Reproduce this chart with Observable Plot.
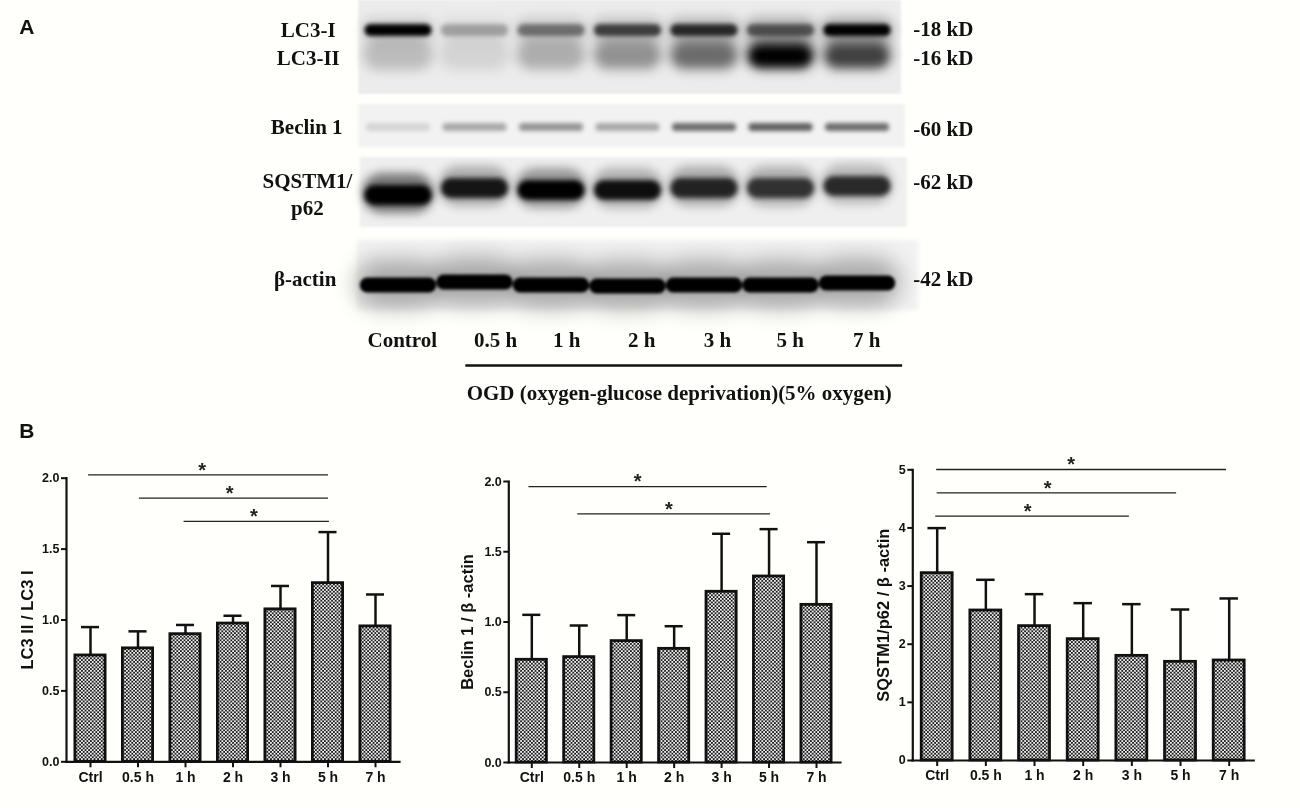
<!DOCTYPE html>
<html><head><meta charset="utf-8">
<script src="https://cdn.jsdelivr.net/npm/d3@7"></script>
<script src="https://cdn.jsdelivr.net/npm/@observablehq/plot@0.6"></script>
<style>
html,body{margin:0;padding:0;background:#fffffb;width:1300px;height:808px;overflow:hidden}
#page{position:relative;width:1300px;height:808px}
#page svg{position:absolute;overflow:visible;background:transparent}
</style></head><body><div id="page"></div>
<script>
// ---------- Panel B data ----------
const times = ["Ctrl","0.5 h","1 h","2 h","3 h","5 h","7 h"];
const lc3Means = [0.75,0.80,0.90,0.975,1.075,1.26,0.955];
const lc3Upper = [0.95,0.92,0.965,1.03,1.24,1.62,1.18];
const lc3SigFrom = [-0.04,1.03,1.97];
const lc3SigTo = [5.01,5.01,5.03];
const lc3SigLevel = [2.024,1.859,1.695];
const lc3StarAt = [2.35,2.93,3.44];

const beclinMeans = [0.731,0.75,0.864,0.809,1.215,1.324,1.122];
const beclinUpper = [1.051,0.975,1.049,0.97,1.628,1.661,1.568];
const beclinSigFrom = [-0.06,0.97];
const beclinSigTo = [4.96,5.03];
const beclinSigLevel = [1.964,1.77];
const beclinStarAt = [2.23,2.89];

const p62Means = [3.222,2.58,2.311,2.087,1.80,1.697,1.72];
const p62Upper = [3.997,3.108,2.861,2.706,2.689,2.597,2.787];
const p62SigFrom = [-0.01,0,-0.03];
const p62SigTo = [5.945,4.92,3.95];
const p62SigLevel = [5.005,4.604,4.203];
const p62StarAt = [2.75,2.27,1.86];

// ---------- Panel A: band intensities (0-1) per lane ----------
const laneNames = ["Control","0.5 h","1 h","2 h","3 h","5 h","7 h"];
const lc3I = [1,0.28,0.45,0.68,0.78,0.55,1];
const lc3IHaze = [0.12,0.06,0.14,0.18,0.22,0.25,0.28];
const lc3IIHaze = [0.2,0.1,0.22,0.28,0.38,0.55,0.45];
const lc3II = [0,0,0.05,0.14,0.26,1,0.5];
const beclin = [0.12,0.3,0.38,0.3,0.55,0.6,0.55];
const p62Haze = [0.5,0.28,0.36,0.26,0.28,0.26,0.22];
const p62 = [1,0.88,1,0.92,0.8,0.72,0.78];
const p62Shift = [6,-1,1,1,-1,-1,-3];
const actin = [1,1,1,1,1,1,1];
const actinShift = [1,-2,1,2,1,1,-1];

const page = document.getElementById("page");
const place = (el,left,top) => { el.style.left = left+"px"; el.style.top = top+"px"; page.appendChild(el); };
const sans = "'Liberation Sans', Arial, sans-serif";
const serif = "'Liberation Serif', 'Times New Roman', serif";

// ---------- Panel B charts ----------
function checkerDefs(id){
  return () => {
    const defs = d3.create("svg:defs");
    const s = 3.6, h = s/2;
    const p = defs.append("pattern").attr("id",id).attr("width",s).attr("height",s).attr("patternUnits","userSpaceOnUse");
    p.append("rect").attr("width",s).attr("height",s).attr("fill","#efefef");
    p.append("rect").attr("width",h).attr("height",h).attr("fill","#1c1c1c");
    p.append("rect").attr("x",h).attr("y",h).attr("width",h).attr("height",h).attr("fill","#1c1c1c");
    return defs.node();
  };
}
function barChart({id,means,upper,sigFrom,sigTo,sigLevel,starAt,ymax,yticks,yfmt,title,left,right,zero,topY,step,firstTick}){
  const svgTop = 445, H = 355;
  const xmin = (left-firstTick)/step, xmax = (right-firstTick)/step;
  const idx = d3.range(times.length);
  const half = 0.318, cap = 0.19;
  const sig = d3.range(sigFrom.length);
  const plot = Plot.plot({
    width: right+40, height: H,
    marginLeft: left, marginRight: 40, marginTop: topY-svgTop, marginBottom: svgTop+H-zero,
    x:{domain:[xmin,xmax],axis:null}, y:{domain:[0,ymax],axis:null},
    style:{fontFamily:sans,color:"#111",background:"transparent"},
    marks:[
      checkerDefs(id),
      Plot.rect(idx,{x1:i=>i-half,x2:i=>i+half,y1:0,y2:i=>means[i],fill:`url(#${id})`,stroke:"#111",strokeWidth:2.8}),
      Plot.ruleX(idx,{x:i=>i,y1:i=>means[i],y2:i=>upper[i],stroke:"#111",strokeWidth:2.5}),
      Plot.ruleY(idx,{y:i=>upper[i],x1:i=>i-cap,x2:i=>i+cap,stroke:"#111",strokeWidth:2.5}),
      Plot.frame({anchor:"left",stroke:"#111",strokeWidth:2.2}),
      Plot.frame({anchor:"bottom",stroke:"#111",strokeWidth:2.2}),
      Plot.axisY({ticks:yticks,tickFormat:yfmt,label:null,tickSize:5,tickPadding:2,strokeWidth:2,stroke:"#111",fill:"#111",fontWeight:"bold",fontSize:12.5}),
      Plot.axisX({ticks:idx,tickFormat:i=>times[i],label:null,tickSize:6,tickPadding:4,strokeWidth:2,stroke:"#111",fill:"#111",fontWeight:"bold",fontSize:14}),
      Plot.ruleY(sig,{y:i=>sigLevel[i],x1:i=>sigFrom[i],x2:i=>sigTo[i],stroke:"#222",strokeWidth:1.3}),
      Plot.text(sig,{x:i=>starAt[i],y:i=>sigLevel[i],text:()=>"*",dy:-4.5,fontSize:20,fontWeight:"bold",fill:"#222",lineAnchor:"middle"}),
      Plot.text([title],{frameAnchor:"left",rotate:-90,dx:title.startsWith("SQSTM")?-29.5:title.startsWith("Beclin")?-41:-39,textAnchor:"middle",lineAnchor:"middle",fontSize:16.5,fontWeight:"bold",fill:"#111"})
    ]
  });
  place(plot,0,svgTop);
}
barChart({id:"chk1",means:lc3Means,upper:lc3Upper,sigFrom:lc3SigFrom,sigTo:lc3SigTo,sigLevel:lc3SigLevel,starAt:lc3StarAt,ymax:2,yticks:[0,0.5,1,1.5,2],yfmt:d3.format(".1f"),title:"LC3 II / LC3 I",left:66,right:399,zero:761.3,topY:477.7,step:47.5,firstTick:90});
barChart({id:"chk2",means:beclinMeans,upper:beclinUpper,sigFrom:beclinSigFrom,sigTo:beclinSigTo,sigLevel:beclinSigLevel,starAt:beclinStarAt,ymax:2,yticks:[0,0.5,1,1.5,2],yfmt:d3.format(".1f"),title:"Beclin 1 / β -actin",left:508.3,right:840,zero:762,topY:481,step:47.45,firstTick:531.3});
barChart({id:"chk3",means:p62Means,upper:p62Upper,sigFrom:p62SigFrom,sigTo:p62SigTo,sigLevel:p62SigLevel,starAt:p62StarAt,ymax:5,yticks:[0,1,2,3,4,5],yfmt:d3.format("d"),title:"SQSTM1/p62 / β -actin",left:912.3,right:1253.3,zero:760,topY:469.3,step:48.67,firstTick:936.7});

// ---------- Panel A ----------
const lanes = d3.range(laneNames.length);
const bandMark = (values,center,halfH,halfW,blur,shift) => Plot.rect(lanes,{
  x1:i=>i-halfW,x2:i=>i+halfW,
  y1:i=>center+(shift?shift[i]:0)-halfH,y2:i=>center+(shift?shift[i]:0)+halfH,
  rx:halfH,
  fill:"#000",fillOpacity:i=>values[i],imageFilter:`blur(${blur}px)`,mixBlendMode:"multiply"});
const panelMark = (x1,x2,y1,y2,fill,blur) => Plot.rect([0],{x1:()=>x1,x2:()=>x2,y1:()=>y1,y2:()=>y2,fill,imageFilter:`blur(${blur}px)`});
const rowText = (rows,opts) => Plot.text(rows,{x:d=>d[1],y:d=>d[2],text:d=>d[0],fontFamily:serif,fontWeight:"bold",fontSize:21,fill:"#111",lineAnchor:"middle",...opts});
const panelA = Plot.plot({
  width:1300,height:440,margin:0,
  x:{type:"linear",domain:[0,6],range:[398,857],axis:null},
  y:{type:"linear",domain:[0,440],range:[0,440],axis:null},
  style:{fontFamily:serif,background:"transparent"},
  marks:[
    panelMark(-0.52,6.575,0,94,"#ececec",1),
    panelMark(-0.52,6.63,104,147,"#f2f2f2",1.5),
    panelMark(-0.5,6.65,157,227,"#efefef",1.5),
    panelMark(-0.54,6.8,240,310,"#f2f2f2",2),
    bandMark(lc3IHaze,30,13,0.48,6),
    bandMark(lc3IIHaze,54,16,0.46,6),
    bandMark(lc3II,56,10,0.4,4),
    bandMark(lc3I,30,6,0.44,2.2),
    bandMark(beclin,127,4,0.42,2),
    bandMark(p62Haze,187,20,0.47,5,p62Shift),
    bandMark(p62,189,10,0.44,2.8,p62Shift),
    bandMark(actin.map(v=>v*0.3),283,24,0.56,11,actinShift),
    bandMark(actin,284,7.5,0.5,1.5,actinShift),
    rowText([["LC3-I",-1.18,30],["LC3-II",-1.18,58],["Beclin 1",-1.2,127],["SQSTM1/",-1.19,181],["p62",-1.19,208],["β-actin",-1.22,279]],{}),
    rowText([["-18 kD",6.73,29],["-16 kD",6.73,58],["-60 kD",6.73,129],["-62 kD",6.73,182],["-42 kD",6.73,279]],{textAnchor:"start"}),
    rowText([["Control",0.05,340],["0.5 h",1.27,340],["1 h",2.2,340],["2 h",3.18,340],["3 h",4.17,340],["5 h",5.12,340],["7 h",6.12,340]],{}),
    Plot.ruleY([0],{y:()=>365,x1:()=>0.88,x2:()=>6.59,stroke:"#111",strokeWidth:2.4}),
    rowText([["OGD (oxygen-glucose deprivation)(5% oxygen)",3.67,393]],{}),
    Plot.text([["A",-4.86,27],["B",-4.86,431]],{x:d=>d[1],y:d=>d[2],text:d=>d[0],fontFamily:sans,fontWeight:"bold",fontSize:21,fill:"#111",lineAnchor:"middle"})
  ]
});
place(panelA,0,0);
</script></body></html>
